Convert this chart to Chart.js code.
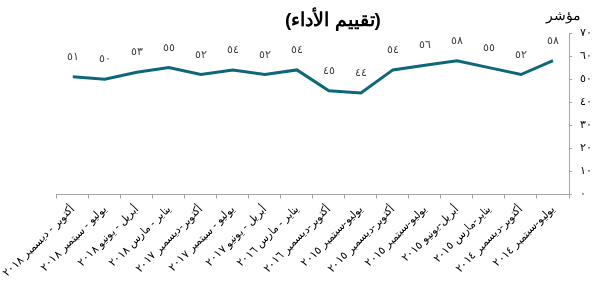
<!DOCTYPE html>
<html>
<head>
<meta charset="utf-8">
<script src="https://cdn.jsdelivr.net/npm/chart.js@4"></script>
<style>
  html, body { margin: 0; padding: 0; background: #fff; }
  #wrap { width: 602px; height: 284px; }
</style>
</head>
<body>
<div id="wrap"><canvas id="perfChart"></canvas></div>
<script>
// data
var periods = [
    'أكتوبر - ديسمبر ٢٠١٨',
    'يوليو - سبتمبر ٢٠١٨',
    'أبريل - يونيو ٢٠١٨',
    'يناير - مارس ٢٠١٨',
    'أكتوبر-ديسمبر ٢٠١٧',
    'يوليو - سبتمبر ٢٠١٧',
    'أبريل - يونيو ٢٠١٧',
    'يناير - مارس ٢٠١٦',
    'أكتوبر-ديسمبر ٢٠١٦',
    'يوليو-سبتمبر ٢٠١٥',
    'أكتوبر-ديسمبر ٢٠١٥',
    'يوليو-سبتمبر ٢٠١٥',
    'أبريل-يونيو ٢٠١٥',
    'يناير-مارس ٢٠١٥',
    'أكتوبر-ديسمبر ٢٠١٤',
    'يوليو-سبتمبر ٢٠١٤'
];
var scores = [51, 50, 53, 55, 52, 54, 52, 54, 45, 44, 54, 56, 58, 55, 52, 58];
var yMin = 0;
var yMax = 70;
var yStep = 10;

var chartTitle = '(تقييم الأداء)';
var axisTitle = 'مؤشر';

function arabicDigits(n) {
    var d = '٠١٢٣٤٥٦٧٨٩';
    return String(n).replace(/[0-9]/g, function (c) { return d[+c]; });
}

// value labels above the line + the two titles
var extraText = {
    id: 'extraText',
    afterDatasetsDraw: function (chart) {
        var ctx = chart.ctx;
        var area = chart.chartArea;
        var meta = chart.getDatasetMeta(0);
        ctx.save();
        ctx.font = '11px "Liberation Sans", Arial';
        ctx.fillStyle = '#404040';
        ctx.textAlign = 'center';
        ctx.textBaseline = 'middle';
        meta.data.forEach(function (pt, i) {
            ctx.fillText(arabicDigits(scores[i]), pt.x, pt.y - 20);
        });

        ctx.fillStyle = '#000';
        ctx.font = 'bold 19px "Liberation Sans", Arial';
        ctx.fillText(chartTitle, (area.left + area.right) / 2 + 20, 21);

        ctx.font = '14px "Liberation Sans", Arial';
        ctx.fillText(axisTitle, area.right - 6, 16);
        ctx.restore();
    }
};

var ctx = document.getElementById('perfChart').getContext('2d');
var chart = new Chart(ctx, {
    type: 'line',
    data: {
        labels: periods,
        datasets: [{
            data: scores,
            borderColor: '#0c6878',
            borderWidth: 3,
            pointRadius: 0,
            tension: 0,
            fill: false
        }]
    },
    options: {
        responsive: true,
        maintainAspectRatio: false,
        animation: false,
        layout: {
            padding: { top: 33, right: 2, left: 0, bottom: 0 }
        },
        plugins: {
            legend: { display: false },
            tooltip: { enabled: false }
        },
        scales: {
            x: {
                offset: true,
                grid: {
                    offset: true,
                    drawOnChartArea: false,
                    drawTicks: true,
                    tickLength: 4,
                    color: '#a6a6a6'
                },
                border: { color: '#a6a6a6' },
                ticks: {
                    autoSkip: false,
                    maxRotation: 45,
                    minRotation: 45,
                    padding: 5,
                    color: '#000',
                    font: { size: 11, lineHeight: 1, family: '"Liberation Sans", Arial' }
                }
            },
            y: {
                position: 'right',
                min: yMin,
                max: yMax,
                grid: {
                    drawOnChartArea: false,
                    tickLength: 3,
                    color: '#a6a6a6'
                },
                border: { color: '#a6a6a6' },
                ticks: {
                    stepSize: yStep,
                    padding: 8,
                    color: '#000',
                    font: { size: 11, family: '"Liberation Sans", Arial' },
                    callback: function (v) { return arabicDigits(v); }
                }
            }
        }
    },
    plugins: [extraText]
});
</script>
</body>
</html>
